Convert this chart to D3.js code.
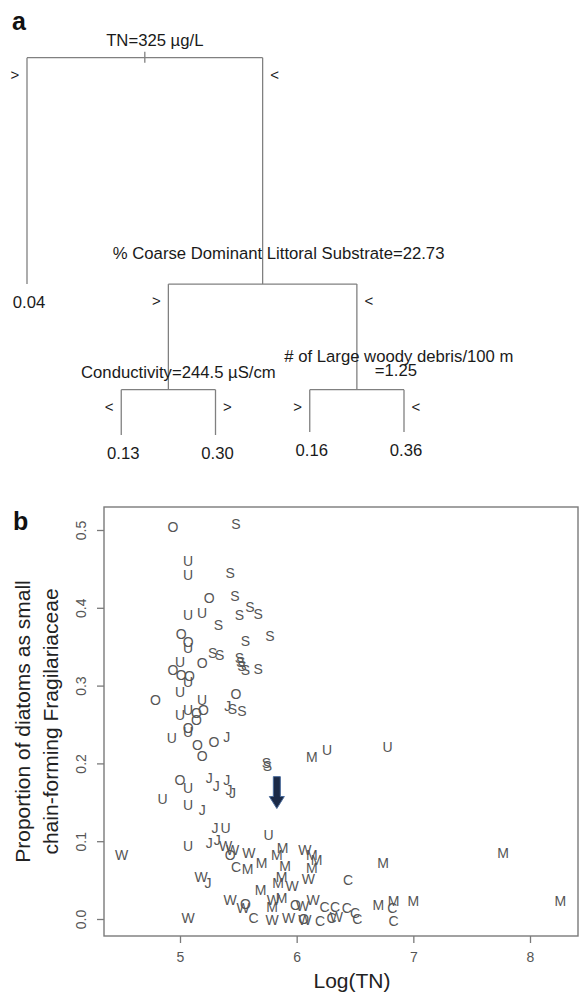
<!DOCTYPE html>
<html><head><meta charset="utf-8">
<script src="https://cdn.jsdelivr.net/npm/d3@7"></script>
<style>
html,body{margin:0;padding:0;background:#fff;}
svg{display:block;font-family:"Liberation Sans",Arial,Helvetica,sans-serif;}
</style></head>
<body>
<svg id="chart" width="580" height="994"></svg>
<script>
// ---------- Panel a: regression tree ----------
const treeIds      = ["root","hiTN","loTN","hiCoarse","loCoarse","loCond","hiCond","hiLWD","loLWD"];
const treeParents  = ["","root","root","loTN","loTN","hiCoarse","hiCoarse","loCoarse","loCoarse"];
const treeSplit    = ["TN=325 µg/L", null, "% Coarse Dominant Littoral Substrate=22.73",
                      "Conductivity=244.5 µS/cm", "# of Large woody debris/100 m|=1.25", null, null, null, null];
const treeBranch   = ["", ">", "<", ">", "<", "<", ">", ">", "<"];
const treeLeafMean = [null, 0.04, null, null, null, 0.13, 0.30, 0.16, 0.36];
const treeDeviance = [1.0, 0.40, 0.40, 0.12, 0.12, 0.0, 0.0, 0.008, 0.008];

// ---------- Panel b: scatter ----------
const siteLetter = [
 "O","O","O","O","O","O","O","O","O","O","O","O","O","O","O","O","O","O","O","O","O","O",
 "U","U","U","U","U","U","U","U","U","U","U","U","U","U","U","U","U","U","U","U","U",
 "S","S","S","S","S","S","S","S","S","S","S","S","S","S","S","S","S","S","S","S",
 "J","J","J","J","J","J","J","J","J","J","J","J",
 "W","W","W","W","W","W","W","W","W","W","W","W","W","W","W","W","W","W",
 "M","M","M","M","M","M","M","M","M","M","M","M","M","M","M","M","M","M","M","M",
 "C","C","C","C","C","C","C","C","C","C","C","C"];
const logTN = [
 4.94,5.25,5.01,5.07,5.19,4.94,5.01,5.08,4.79,5.48,5.14,5.20,5.14,5.07,5.15,5.29,5.19,5.00,5.43,5.56,5.99,6.06,
 5.07,5.07,5.07,5.19,5.07,5.00,5.07,5.00,5.19,5.00,5.07,4.93,5.07,5.07,4.85,5.07,5.39,5.76,5.07,6.26,6.78,
 5.48,5.43,5.47,5.60,5.67,5.51,5.33,5.56,5.77,5.28,5.34,5.51,5.52,5.53,5.56,5.67,5.45,5.53,5.74,5.75,
 5.41,5.40,5.25,5.31,5.40,5.42,5.45,5.19,5.30,5.25,5.32,5.24,
 4.50,5.39,5.45,5.59,5.18,5.43,5.54,5.07,5.80,5.79,5.93,5.96,6.07,6.10,6.05,6.14,6.07,6.34,
 5.58,5.70,5.69,5.88,5.83,5.90,5.87,5.84,5.87,5.79,6.13,6.17,6.13,6.13,6.74,7.77,8.26,7.00,6.83,6.70,
 5.48,5.63,6.44,6.24,6.33,6.43,6.50,6.20,6.30,6.52,6.82,6.83];
const propFrag = [
 0.504,0.413,0.366,0.356,0.329,0.320,0.314,0.312,0.281,0.289,0.265,0.269,0.256,0.246,0.224,0.228,0.210,0.179,0.082,0.019,0.018,0.000,
 0.460,0.442,0.391,0.393,0.348,0.330,0.305,0.292,0.281,0.262,0.269,0.233,0.240,0.168,0.154,0.147,0.117,0.108,0.094,0.217,0.221,
 0.508,0.445,0.415,0.401,0.392,0.391,0.378,0.357,0.364,0.342,0.339,0.335,0.330,0.325,0.320,0.321,0.270,0.267,0.201,0.197,
 0.274,0.234,0.181,0.171,0.179,0.166,0.162,0.140,0.117,0.098,0.102,0.046,
 0.082,0.094,0.089,0.085,0.054,0.024,0.014,0.001,0.024,-0.001,0.001,0.042,0.089,0.051,0.017,0.024,-0.001,0.003,
 0.064,0.072,0.037,0.091,0.082,0.068,0.054,0.046,0.027,0.015,0.082,0.076,0.066,0.208,0.072,0.085,0.023,0.023,0.023,0.018,
 0.067,0.001,0.050,0.015,0.015,0.014,0.008,-0.003,0.001,0.000,0.014,-0.003];
const xTicks = [5, 6, 7, 8];
const yTicks = [0.0, 0.1, 0.2, 0.3, 0.4, 0.5];
const arrowLogTN = 5.83, arrowFrom = 0.183, arrowTo = 0.142;
const xTitle = "Log(TN)";
const yTitle = ["Proportion of diatoms as small", "chain-forming Fragilariaceae"];

const svg = d3.select("#chart");

// ======== Panel a ========
const gA = svg.append("g");
gA.append("text").attr("x", 12).attr("y", 30).attr("font-size", 25).attr("font-weight", "bold")
  .attr("fill", "#111").text("a");

const table = treeIds.map((id, i) => ({id, parent: treeParents[i], split: treeSplit[i],
  branch: treeBranch[i], mean: treeLeafMean[i], dev: treeDeviance[i]}));
const root = d3.stratify().id(d => d.id).parentId(d => d.parent || null)(table);
const leaves = root.leaves();
const leafX = d3.scalePoint().domain(leaves.map(d => d.id)).range([27, 404]);
const devY = d3.scaleLinear().domain([1, 0]).range([57.7, 435]);
root.eachAfter(n => {
  n.px = n.children ? d3.mean(n.children, c => c.px) : leafX(n.id);
  n.py = devY(n.data.dev);
});
const lineCol = "#808080", txtCol = "#1a1a1a";
const labelOff = {root: [10, -12], loTN: [16, -25], hiCoarse: [10, -12], loCoarse: [42, -28]};
root.each(n => {
  if (!n.children) return;
  const [a, b] = n.children;
  gA.append("line").attr("x1", a.px).attr("x2", b.px).attr("y1", n.py).attr("y2", n.py)
    .attr("stroke", lineCol).attr("stroke-width", 1.3);
  n.children.forEach(c => {
    gA.append("line").attr("x1", c.px).attr("x2", c.px).attr("y1", n.py).attr("y2", c.py)
      .attr("stroke", lineCol).attr("stroke-width", 1.3);
    const left = c === a;
    gA.append("text").attr("x", c.px + (left ? -12 : 12)).attr("y", n.py + 22)
      .attr("text-anchor", "middle").attr("font-size", 15).attr("fill", txtCol).text(c.data.branch);
  });
  const off = labelOff[n.id];
  const lines = n.data.split.split("|");
  lines.forEach((t, k) => {
    gA.append("text").attr("x", n.px + off[0] - (k ? 3 : 0)).attr("y", n.py + off[1] + k * 14.5)
      .attr("text-anchor", "middle").attr("font-size", 16.7).attr("fill", txtCol).text(t);
  });
});
gA.append("line").attr("x1", root.px).attr("x2", root.px).attr("y1", root.py - 6).attr("y2", root.py + 5)
  .attr("stroke", lineCol).attr("stroke-width", 1.3);
leaves.forEach(l => {
  gA.append("text").attr("x", l.px + 2).attr("y", l.py + 24).attr("text-anchor", "middle")
    .attr("font-size", 16.7).attr("fill", txtCol).text(d3.format(".2f")(l.data.mean));
});

// ======== Panel b ========
const gB = svg.append("g");
gB.append("text").attr("x", 13).attr("y", 530).attr("font-size", 25).attr("font-weight", "bold")
  .attr("fill", "#111").text("b");

const L = 104, R = 578, T = 507, B = 936;
const x = d3.scaleLinear().domain([5, 8]).range([180, 530]);
const y = d3.scaleLinear().domain([0, 0.5]).range([919, 530]);

gB.append("rect").attr("x", L).attr("y", T).attr("width", R - L).attr("height", B - T)
  .attr("fill", "none").attr("stroke", "#7a7a7a").attr("stroke-width", 1.4);

const xa = gB.append("g").attr("transform", `translate(0,${B})`)
  .call(d3.axisBottom(x).tickValues(xTicks).tickSize(7).tickFormat(d3.format("d")));
xa.select(".domain").remove();
xa.selectAll("line").attr("stroke", "#7a7a7a").attr("stroke-width", 1.3);
xa.selectAll("text").attr("font-size", 14).attr("fill", "#555").attr("font-family", "Liberation Sans, Arial")
  .attr("y", 26).attr("dy", null);

const ya = gB.append("g").attr("transform", `translate(${L},0)`)
  .call(d3.axisLeft(y).tickValues(yTicks).tickSize(7).tickFormat(d3.format(".1f")));
ya.select(".domain").remove();
ya.selectAll("line").attr("stroke", "#7a7a7a").attr("stroke-width", 1.3);
ya.selectAll("text").attr("font-size", 14).attr("fill", "#555").attr("font-family", "Liberation Sans, Arial")
  .attr("x", null).attr("dy", null).attr("text-anchor", "middle")
  .attr("transform", "translate(-18,0) rotate(-90)");

gB.append("text").attr("x", 352).attr("y", 988).attr("text-anchor", "middle")
  .attr("font-size", 21).attr("fill", "#222").text(xTitle);
yTitle.forEach((t, k) => {
  gB.append("text").attr("transform", `translate(${30 + k * 28},${(T + B) / 2}) rotate(-90)`)
    .attr("text-anchor", "middle").attr("font-size", 21).attr("fill", "#222").text(t);
});

gB.append("g").selectAll("text").data(siteLetter.map((s, i) => ({s, x: logTN[i], y: propFrag[i]})))
  .join("text")
  .attr("x", d => x(d.x)).attr("y", d => y(d.y)).attr("dy", "0.36em")
  .attr("text-anchor", "middle").attr("font-size", 14).attr("fill", "#555")
  .text(d => d.s);

// arrow
const ax = x(arrowLogTN), ay0 = y(arrowFrom), ay1 = y(arrowTo);
const hh = 12;
gB.append("path")
  .attr("d", `M${ax - 3.5},${ay0} L${ax + 3.5},${ay0} L${ax + 3.5},${ay1 - hh} L${ax + 7.5},${ay1 - hh}
             L${ax},${ay1} L${ax - 7.5},${ay1 - hh} L${ax - 3.5},${ay1 - hh} Z`)
  .attr("fill", "#1b2a47").attr("stroke", "#4a6a9a").attr("stroke-width", 1);
</script>
</body></html>
